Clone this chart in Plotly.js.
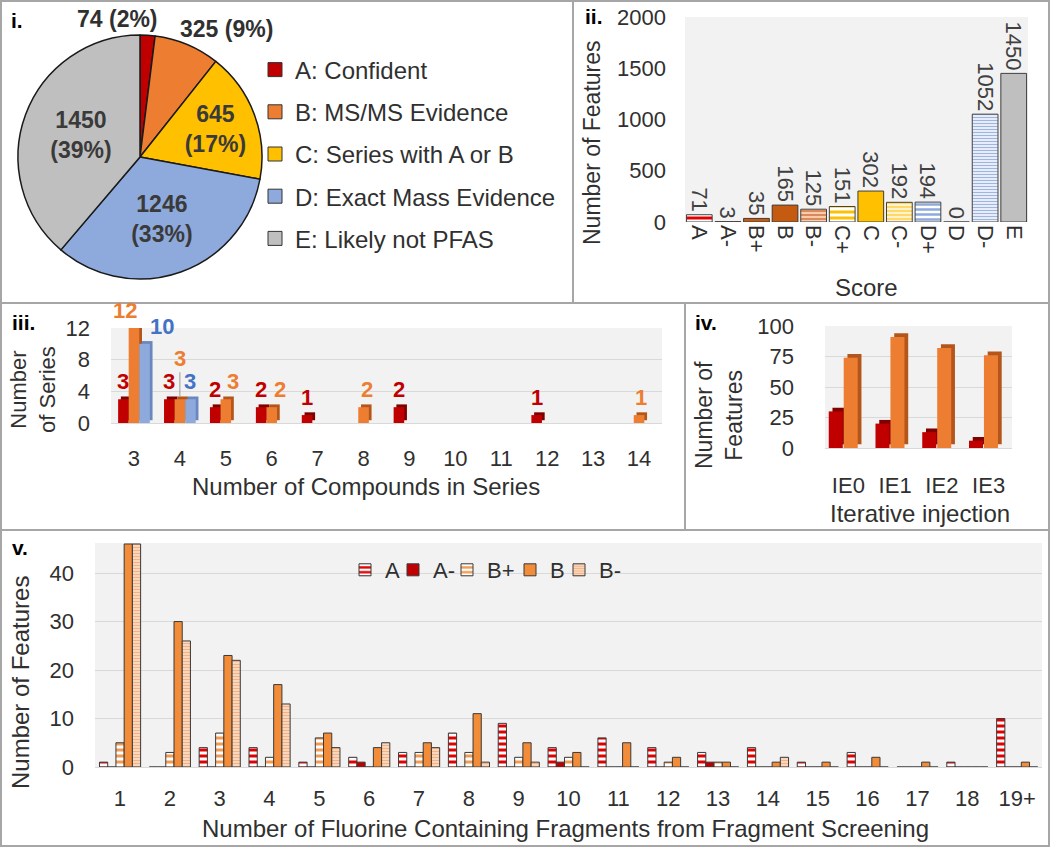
<!DOCTYPE html>
<html>
<head>
<meta charset="utf-8">
<script src="https://cdn.plot.ly/plotly-3.0.1.min.js"></script>
<style>
body { margin: 0; background: #fff; }
#fig { width: 1050px; height: 847px; }
</style>
</head>
<body>
<div id="fig"></div>
<script>
/** ---------------- Data ---------------- **/
// i. score classes (pie)
let pieLabels = ['A: Confident', 'B: MS/MS Evidence', 'C: Series with A or B', 'D: Exact Mass Evidence', 'E: Likely not PFAS'];
let pieValues = [74, 325, 645, 1246, 1450];

// ii. features per score
let scoreCats = ['A', 'A-', 'B+', 'B', 'B-', 'C+', 'C', 'C-', 'D+', 'D', 'D-', 'E'];
let scoreCounts = [71, 3, 35, 165, 125, 151, 302, 192, 194, 0, 1052, 1450];

// iii. series size
let seriesCats = ['3', '4', '5', '6', '7', '8', '9', '10', '11', '12', '13', '14'];
let seriesRed = [3, 3, 2, 2, 1, 0, 2, 0, 0, 1, 0, 0];
let seriesOrange = [12, 3, 3, 2, 0, 2, 0, 0, 0, 0, 0, 1];
let seriesBlue = [10, 3, 0, 0, 0, 0, 0, 0, 0, 0, 0, 0];

// iv. iterative injection
let ieCats = ['IE0', 'IE1', 'IE2', 'IE3'];
let ieRed = [30, 20, 13, 6];
let ieOrange = [74, 91, 82, 76];

// v. fluorine containing fragments
let fragCats = ['1', '2', '3', '4', '5', '6', '7', '8', '9', '10', '11', '12', '13', '14', '15', '16', '17', '18', '19+'];
let fragA      = [1, 0, 4, 4, 1, 2, 3, 7, 9, 4, 6, 4, 3, 4, 1, 3, 0, 1, 10];
let fragAminus = [0, 0, 0, 0, 0, 1, 0, 0, 0, 1, 0, 0, 1, 0, 0, 0, 0, 0, 0];
let fragBplus  = [5, 3, 7, 2, 6, 0, 3, 3, 2, 2, 0, 1, 1, 0, 0, 0, 0, 0, 0];
let fragB      = [46, 30, 23, 17, 7, 4, 5, 11, 5, 3, 5, 2, 1, 1, 1, 2, 1, 0, 1];
let fragBminus = [46, 26, 22, 13, 4, 5, 4, 1, 1, 0, 0, 0, 0, 2, 0, 0, 0, 0, 0];

/** ---------------- Styles ---------------- **/
let W = 1050, H = 847;
let FONT = 'Arial, "Liberation Sans", sans-serif';
let INK = '#303030';
let RED = '#C00000', ORANGE = '#ED7D31', BLUE = '#8EA9DB';

// pixel (top-left origin) -> paper
function fx(x) { return x / W; }
function fy(y) { return 1 - y / H; }

let pieColors = [RED, ORANGE, '#FFC000', BLUE, '#BFBFBF'];

// ii: background fill under each bar, and the stripe (or solid) colour on top
let scoreFill  = ['#FFFFFF', RED, '#C55A11', '#C55A11', '#F8CBAD', '#FFFFFF', '#FFC000', '#FFF2CC', '#FFFFFF', '#FFFFFF', '#FFFFFF', '#BFBFBF'];
let scoreStripe = ['#E00000', RED, '#C55A11', '#C55A11', '#D9895A', '#FFC000', '#FFC000', '#FFD966', '#8EA9DB', '#FFFFFF', '#9DB5E0', '#BFBFBF'];
let scoreShape = ['-', '', '', '', '-', '-', '', '-', '-', '', '-', ''];
let scoreSize  = [6, 6, 6, 6, 4, 6, 6, 4, 5, 6, 3, 6];

/** ---------------- Traces ---------------- **/
let pieTotal = pieValues.reduce((a, b) => a + b, 0);

let trace_pie = {
    type: 'pie', labels: pieLabels, values: pieValues,
    sort: false, direction: 'clockwise', rotation: 0,
    marker: {colors: pieColors, line: {color: '#1a1a1a', width: 1.5}},
    textposition: ['none', 'none', 'inside', 'inside', 'inside'],
    texttemplate: '<b>%{value}</b><br><b>(%{percent:.0%})</b>',
    insidetextfont: {family: FONT, size: 23, color: '#3a3a3a'},
    insidetextorientation: 'horizontal',
    domain: {x: [fx(18), fx(262)], y: [fy(279), fy(35)]},
    showlegend: false, hoverinfo: 'none'
};

// legend rows for the pie (one entry per slice, spaced like the original)
let pieLegend = pieLabels.map((lab, i) => ({
    type: 'scatter', mode: 'markers', x: [null], y: [null], xaxis: 'x', yaxis: 'y',
    name: lab, legend: 'legend2', legendgroup: 'p' + i,
    marker: {symbol: 'square', size: 14, color: pieColors[i], line: {color: '#333', width: 1}},
    hoverinfo: 'none'
}));

let trace_score_bg = {
    type: 'bar', x: scoreCats, y: scoreCounts, xaxis: 'x', yaxis: 'y',
    width: 0.9, offset: -0.45,
    marker: {color: scoreFill, line: {width: 0}},
    showlegend: false, hoverinfo: 'none'
};
let trace_score = {
    type: 'bar', x: scoreCats, y: scoreCounts, xaxis: 'x', yaxis: 'y',
    width: 0.9, offset: -0.45,
    marker: {color: scoreStripe, line: {color: '#404040', width: 1},
        pattern: {shape: scoreShape, size: scoreSize, solidity: 0.5}},
    text: scoreCounts.map(String), textposition: 'outside', textangle: 90,
    constraintext: 'none', cliponaxis: false,
    textfont: {family: FONT, size: 22, color: '#404040'},
    showlegend: false, hoverinfo: 'none'
};

// iii + iv are 3-D columns in the original: a darker copy sits behind, nudged right/up
function colTrace(xs, y, xa, ya, color, width, offset) {
    return {
        type: 'bar', x: xs, y: y, xaxis: xa, yaxis: ya,
        width: width, offset: offset,
        marker: {color: color, line: {width: 0}},
        showlegend: false, hoverinfo: 'none'
    };
}
function sideTrace(xs, y, xa, ya, color, width, offset, dx, dy) {
    let t = colTrace(xs, y, xa, ya, color, width, offset + dx);
    t.base = y.map(v => v ? dy : 0);
    return t;
}

let SW = 0.23;
let sOff = [-0.345, -0.115, 0.115];
let trace_s_side = [
    sideTrace(seriesCats, seriesRed, 'x2', 'y2', '#7F0000', SW, sOff[0], 0.06, 0.35),
    sideTrace(seriesCats, seriesOrange, 'x2', 'y2', '#B4561C', SW, sOff[1], 0.06, 0.35),
    sideTrace(seriesCats, seriesBlue, 'x2', 'y2', '#6A88C0', SW, sOff[2], 0.06, 0.35)
];
let trace_s_red = colTrace(seriesCats, seriesRed, 'x2', 'y2', RED, SW, sOff[0]);
let trace_s_orange = colTrace(seriesCats, seriesOrange, 'x2', 'y2', ORANGE, SW, sOff[1]);
let trace_s_blue = colTrace(seriesCats, seriesBlue, 'x2', 'y2', BLUE, SW, sOff[2]);

let trace_ie_side = [
    sideTrace(ieCats, ieRed, 'x3', 'y3', '#7F0000', 0.3, -0.42, 0.08, 3),
    sideTrace(ieCats, ieOrange, 'x3', 'y3', '#B4561C', 0.3, -0.1, 0.08, 3)
];
let trace_ie_red = colTrace(ieCats, ieRed, 'x3', 'y3', RED, 0.3, -0.42);
let trace_ie_orange = colTrace(ieCats, ieOrange, 'x3', 'y3', ORANGE, 0.3, -0.1);

let fragLine = {color: '#3a3a3a', width: 1};
function fragTrace(name, y, offset, fill, pattern, lw) {
    let m = {color: fill, line: fragLine};
    if (pattern) m.pattern = pattern;
    return {
        type: 'bar', name: name, x: fragCats, y: y, xaxis: 'x4', yaxis: 'y4',
        width: 0.165, offset: offset, marker: m, legendwidth: lw, hoverinfo: 'none'
    };
}
let trace_fA = fragTrace('A', fragA, -0.41, '#FFFFFF',
    {shape: '-', fgcolor: '#E00000', bgcolor: '#FFFFFF', size: 6, solidity: 0.5}, 3);
let trace_fAm = fragTrace('A-', fragAminus, -0.245, RED, null, 9);
let trace_fBp = fragTrace('B+', fragBplus, -0.08, '#FFFFFF',
    {shape: '-', fgcolor: '#F29A50', bgcolor: '#FFFFFF', size: 6, solidity: 0.5}, 18);
let trace_fB = fragTrace('B', fragB, 0.085, '#F28C38', null, 4);
let trace_fBm = fragTrace('B-', fragBminus, 0.25, '#FBE2CF',
    {shape: '-', fgcolor: '#F4B183', bgcolor: '#FBE2CF', size: 3, solidity: 0.5}, 26);

/** ---------------- Layout ---------------- **/
let tickFont = {family: FONT, size: 22, color: INK};
let grid = '#D9D9D9';

function ann(text, x, y, size, opts) {
    let a = {text: text, x: fx(x), y: fy(y), xref: 'paper', yref: 'paper',
        xanchor: 'center', yanchor: 'middle',
        showarrow: false, font: {family: FONT, size: size, color: INK}};
    return Object.assign(a, opts || {});
}
let bold = {family: FONT, size: 21, color: '#000'};

function pieLabel(i) {
    return '<b>' + pieValues[i] + ' (' + Math.round(pieValues[i] / pieTotal * 100) + '%)</b>';
}

let annotations = [
    ann('<b>i.</b>', 9, 20, 21, {xanchor: 'left', font: bold}),
    ann('<b>ii.</b>', 583, 17, 21, {xanchor: 'left', font: bold}),
    ann('<b>iii.</b>', 10, 323, 21, {xanchor: 'left', font: bold}),
    ann('<b>iv.</b>', 693, 322, 21, {xanchor: 'left', font: bold}),
    ann('<b>v.</b>', 10, 547, 21, {xanchor: 'left', font: bold}),
    ann(pieLabel(0), 117, 19, 23),
    ann(pieLabel(1), 226, 29, 23),
    ann('Number of Features', 592, 143, 23, {textangle: -90}),
    ann('Score', 866, 287, 24),
    ann('Number<br>of Series', 33, 390, 22, {textangle: -90}),
    ann('Number of Compounds in Series', 366, 486, 24),
    ann('Number of<br>Features', 719, 415, 23, {textangle: -90}),
    ann('Iterative injection', 920, 513, 24),
    ann('Number of Features', 20, 683, 24, {textangle: -90}),
    ann('Number of Fluorine Containing Fragments from Fragment Screening', 565, 828, 24)
];

// iii value labels, placed on the data through the x2/y2 scales (x = category index)
// dx: pixel shift from the category centre; nudge: per-label moves seen in the original
function seriesLabels(vals, color, dx, nudge) {
    vals.forEach((v, i) => {
        if (!v) return;
        let n = nudge[i] || {};
        let a = {
            xref: 'x2', yref: 'y2', x: i, y: v, text: '<b>' + v + '</b>',
            xanchor: 'center', yanchor: 'bottom', showarrow: false,
            xshift: dx + (n.dx || 0), yshift: 3,
            font: {family: FONT, size: 22, color: color}
        };
        if (n.lift) {
            Object.assign(a, {showarrow: true, arrowhead: 0, arrowwidth: 1, arrowcolor: '#9A9A9A',
                ax: 0, ay: -n.lift, standoff: 0, yanchor: 'auto'});
        }
        annotations.push(a);
    });
}
seriesLabels(seriesRed, RED, -10.6, {});
seriesLabels(seriesOrange, ORANGE, 0, {0: {dx: -9}, 1: {lift: 38}, 2: {dx: 7}, 3: {dx: 8}, 5: {dx: 3}, 11: {dx: 2}});
seriesLabels(seriesBlue, '#4472C4', 10.6, {0: {dx: 17}});

let border = {color: '#A6A6A6', width: 2};
let shapes = [
    {type: 'rect', xref: 'paper', yref: 'paper', x0: fx(1), y0: fy(846), x1: fx(1049), y1: fy(1), line: border},
    {type: 'line', xref: 'paper', yref: 'paper', x0: 0, x1: 1, y0: fy(303), y1: fy(303), line: border},
    {type: 'line', xref: 'paper', yref: 'paper', x0: fx(573), x1: fx(573), y0: fy(303), y1: 1, line: border},
    {type: 'line', xref: 'paper', yref: 'paper', x0: 0, x1: 1, y0: fy(530), y1: fy(530), line: border},
    {type: 'line', xref: 'paper', yref: 'paper', x0: fx(685), x1: fx(685), y0: fy(530), y1: fy(303), line: border}
];

let layout = {
    width: W, height: H, autosize: false,
    margin: {l: 0, r: 0, t: 0, b: 0, pad: 0},
    paper_bgcolor: '#FFFFFF', plot_bgcolor: '#F2F2F2',
    font: {family: FONT, color: INK},
    barmode: 'overlay',
    // ii
    xaxis: {domain: [fx(685), fx(1028)], anchor: 'y', type: 'category', range: [-0.5, 11.5],
        tickangle: 90, tickfont: tickFont, showgrid: false, ticklabelstandoff: 2, fixedrange: true},
    yaxis: {domain: [fy(222), fy(17)], anchor: 'x', range: [0, 2000], dtick: 500,
        showgrid: false, zeroline: false, tickfont: tickFont, ticklabelstandoff: 18, fixedrange: true},
    // iii
    xaxis2: {domain: [fx(111), fx(662)], anchor: 'y2', type: 'category', range: [-0.5, 11.5],
        tickfont: tickFont, showgrid: false, ticklabelstandoff: 20, fixedrange: true},
    yaxis2: {domain: [fy(423), fy(328)], anchor: 'x2', range: [0, 12], dtick: 4,
        gridcolor: grid, zeroline: true, zerolinecolor: grid, tickfont: tickFont, ticklabelstandoff: 20, fixedrange: true},
    // iv
    xaxis3: {domain: [fx(825), fx(1012)], anchor: 'y3', type: 'category', range: [-0.5, 3.5],
        tickfont: tickFont, showgrid: false, ticklabelstandoff: 22, fixedrange: true},
    yaxis3: {domain: [fy(448), fy(326)], anchor: 'x3', range: [0, 100], dtick: 25,
        gridcolor: grid, zeroline: true, zerolinecolor: grid, tickfont: tickFont, ticklabelstandoff: 30, fixedrange: true},
    // v
    xaxis4: {domain: [fx(95), fx(1042)], anchor: 'y4', type: 'category', range: [-0.5, 18.5],
        tickfont: tickFont, showgrid: false, ticklabelstandoff: 16, fixedrange: true},
    yaxis4: {domain: [fy(767), fy(543)], anchor: 'x4', range: [0, 46.2], tickvals: [0, 10, 20, 30, 40],
        gridcolor: grid, zeroline: true, zerolinecolor: grid, tickfont: tickFont, ticklabelstandoff: 20, fixedrange: true},
    legend: {orientation: 'h', x: fx(345), y: fy(570), xanchor: 'left', yanchor: 'middle',
        bgcolor: 'rgba(0,0,0,0)', font: {family: FONT, size: 22, color: INK}, itemclick: false},
    legend2: {x: fx(255), y: fy(154), xanchor: 'left', yanchor: 'middle', tracegroupgap: 8,
        bgcolor: 'rgba(0,0,0,0)', font: {family: FONT, size: 24, color: INK}, itemclick: false},
    annotations: annotations,
    shapes: shapes
};

Plotly.newPlot('fig',
    [trace_pie].concat(pieLegend,
        [trace_score_bg, trace_score],
        trace_s_side, [trace_s_red, trace_s_orange, trace_s_blue],
        trace_ie_side, [trace_ie_red, trace_ie_orange],
        [trace_fA, trace_fAm, trace_fBp, trace_fB, trace_fBm]),
    layout, {displayModeBar: false, staticPlot: true});
</script>
</body>
</html>
